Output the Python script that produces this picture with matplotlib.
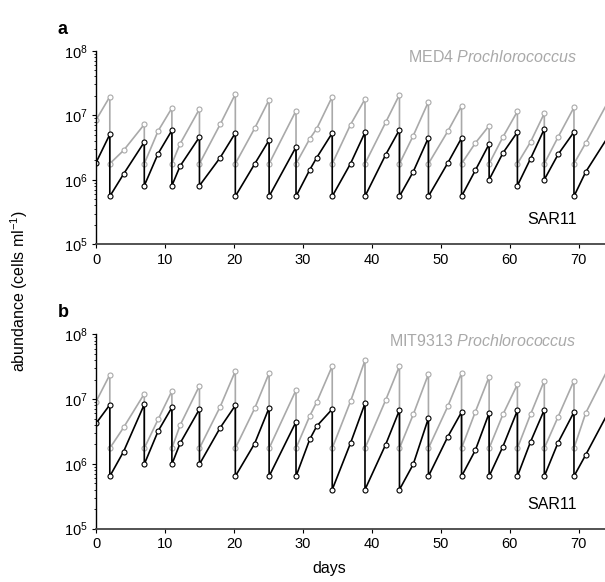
import numpy as np
import matplotlib
matplotlib.use('Agg')
import matplotlib.pyplot as plt
from matplotlib.ticker import LogLocator, LogFormatterSciNotation, NullFormatter

plt.rcParams['font.family'] = ['Liberation Sans', 'DejaVu Sans']
plt.rcParams['mathtext.fontset'] = 'custom'
plt.rcParams['mathtext.rm'] = 'Liberation Sans'
plt.rcParams['mathtext.it'] = 'Liberation Sans:italic'
plt.rcParams['mathtext.default'] = 'regular'

# sampling days (dilution days appear twice: before / after transfer)
days = [0, 2, 2, 4, 7, 7, 9, 11, 11, 12.2, 15, 15, 18, 20.2, 20.2, 23,
        25.1, 25.1, 29, 29, 31, 32, 34.25, 34.25, 36.9, 39, 39, 42, 44, 44,
        46, 48.2, 48.2, 51, 53, 53, 55, 57, 57, 59, 61.1, 61.1, 63, 65, 65,
        67, 69.3, 69.3, 71, 74.5]

# log10 abundance, panel a
a_sar11 = [6.265, 6.704, 5.744, 6.09, 6.585, 5.909, 6.405, 6.766, 5.909, 6.214,
           6.663, 5.909, 6.343, 6.725, 5.744, 6.245, 6.616, 5.744, 6.508, 5.744,
           6.157, 6.343, 6.725, 5.744, 6.25, 6.735, 5.744, 6.389, 6.776, 5.744,
           6.126, 6.653, 5.744, 6.26, 6.647, 5.744, 6.147, 6.554, 6.002, 6.415,
           6.74, 5.909, 6.327, 6.787, 6.002, 6.394, 6.74, 5.744, 6.121, 6.71]
a_pro = [6.926, 7.288, 6.25, 6.456, 6.859, 6.25, 6.756, 7.112, 6.25, 6.56,
         7.097, 6.25, 6.859, 7.329, 6.25, 6.797, 7.241, 6.25, 7.071, 6.25,
         6.637, 6.792, 7.288, 6.25, 6.854, 7.251, 6.25, 6.89, 7.319, 6.25,
         6.684, 7.21, 6.25, 6.751, 7.143, 6.25, 6.57, 6.838, 6.25, 6.663,
         7.06, 6.25, 6.585, 7.03, 6.25, 6.663, 7.122, 6.25, 6.57, 7.26]

# log10 abundance, panel b
b_sar11 = [6.624, 6.912, 5.809, 6.191, 6.918, 5.995, 6.505, 6.871, 5.995, 6.32,
           6.845, 5.995, 6.557, 6.902, 5.809, 6.314, 6.866, 5.809, 6.649, 5.809,
           6.381, 6.582, 6.845, 5.603, 6.32, 6.933, 5.603, 6.299, 6.83, 5.603,
           5.995, 6.706, 5.809, 6.418, 6.799, 5.809, 6.211, 6.784, 5.809, 6.268,
           6.825, 5.809, 6.34, 6.835, 5.809, 6.33, 6.799, 5.809, 6.139, 6.84]
b_pro = [6.959, 7.376, 6.242, 6.562, 7.082, 6.242, 6.686, 7.124, 6.242, 6.598,
         7.206, 6.242, 6.881, 7.433, 6.242, 6.856, 7.402, 6.242, 7.139, 6.242,
         6.742, 6.954, 7.51, 6.242, 6.964, 7.598, 6.242, 6.985, 7.51, 6.242,
         6.763, 7.387, 6.242, 6.887, 7.402, 6.242, 6.804, 7.345, 6.242, 6.763,
         7.227, 6.242, 6.763, 7.284, 6.242, 6.727, 7.284, 6.242, 6.784, 7.52]

panels = [('a', 'MED4', a_pro, a_sar11), ('b', 'MIT9313', b_pro, b_sar11)]

gray = '#a9a9a9'
fig = plt.figure(figsize=(6.05, 5.82), dpi=100)
boxes = [[0.1587, 0.5802, 0.8413, 0.3326], [0.1587, 0.0916, 0.8413, 0.3340]]

for box, (letter, strain, pro, sar) in zip(boxes, panels):
    ax = fig.add_axes(box)
    x = np.array(days)
    ax.plot(x, 10 ** np.array(pro), color=gray, lw=1.2, marker='o', ms=3.6,
            mfc='white', mec=gray, mew=0.8)
    ax.plot(x, 10 ** np.array(sar), color='black', lw=1.2, marker='o', ms=3.6,
            mfc='white', mec='black', mew=0.8)
    ax.set_yscale('log')
    ax.set_ylim(1e5, 1e8)
    ax.set_xlim(0, 73.8)
    ax.set_xticks(range(0, 71, 10))
    ax.yaxis.set_major_locator(LogLocator(base=10, numticks=10))
    ax.yaxis.set_major_formatter(LogFormatterSciNotation())
    ax.yaxis.set_minor_locator(LogLocator(base=10, subs=np.arange(2, 10), numticks=10))
    ax.yaxis.set_minor_formatter(NullFormatter())
    for s in ['top', 'right']:
        ax.spines[s].set_visible(False)
    ax.spines['left'].set_linewidth(1.0)
    ax.spines['bottom'].set_linewidth(1.3)
    ax.spines['bottom'].set_color('#444444')
    ax.tick_params(axis='both', which='major', labelsize=10.5, length=3, width=0.8, pad=3)
    ax.tick_params(axis='y', which='minor', length=1.8, width=0.6)
    ax.text(69.7, 10 ** 7.9, strain + r' $\it{Prochlorococcus}$', color=gray,
            fontsize=11.5, ha='right', va='center')
    ax.text(69.7, 10 ** 5.38, 'SAR11', color='black', fontsize=11.5,
            ha='right', va='center')
    ax.text(-0.075, 1.11, letter, transform=ax.transAxes, fontsize=13,
            fontweight='bold', ha='left', va='center')

fig.text(0.545, 0.024, 'days', fontsize=11.5, ha='center', va='center')
fig.text(0.032, 0.5, r'abundance (cells ml$^{-1}$)', fontsize=11.5,
         rotation=90, ha='center', va='center')

plt.savefig('out.png', dpi=100)
